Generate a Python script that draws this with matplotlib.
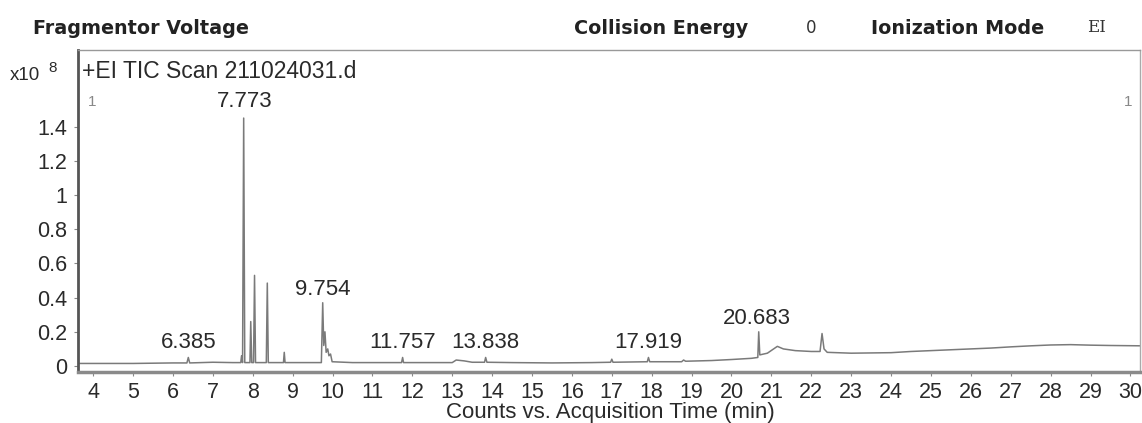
import matplotlib.pyplot as plt

# chromatogram trace (time in min, counts x1e8)
times = [3.62, 5.0, 6.0, 6.35, 6.385, 6.42, 7.0, 7.5, 7.70, 7.72, 7.745, 7.773, 7.80,
         7.93, 7.95, 7.975, 8.02, 8.045, 8.07, 8.34, 8.365, 8.39, 8.77, 8.79, 8.81,
         9.72, 9.754, 9.78, 9.81, 9.84, 9.88, 9.91, 9.95, 9.99, 10.5, 11.0, 11.73,
         11.757, 11.78, 12.5, 13.0, 13.1, 13.3, 13.5, 13.81, 13.838, 13.87, 14.5, 15.5,
         16.5, 16.97, 17.0, 17.03, 17.89, 17.919, 17.95, 18.75, 18.8, 18.85, 19.5, 20.0,
         20.5, 20.66, 20.683, 20.71, 20.9, 21.15, 21.3, 21.6, 22.0, 22.22, 22.27, 22.32,
         22.4, 23.0, 24.0, 24.5, 25.5, 26.5, 27.0, 27.5, 28.0, 28.5, 29.0, 29.5, 30.3]
counts = [0.015, 0.015, 0.018, 0.018, 0.05, 0.018, 0.022, 0.02, 0.02, 0.06, 0.02, 1.45, 0.02,
          0.02, 0.26, 0.02, 0.02, 0.53, 0.02, 0.02, 0.485, 0.02, 0.02, 0.08, 0.02,
          0.02, 0.37, 0.12, 0.2, 0.08, 0.1, 0.06, 0.07, 0.025, 0.02, 0.02, 0.02,
          0.05, 0.02, 0.02, 0.02, 0.035, 0.03, 0.022, 0.022, 0.05, 0.022, 0.02, 0.018,
          0.02, 0.022, 0.04, 0.022, 0.025, 0.05, 0.025, 0.025, 0.035, 0.028, 0.032, 0.038,
          0.045, 0.05, 0.2, 0.065, 0.075, 0.115, 0.1, 0.09, 0.085, 0.085, 0.19, 0.1,
          0.08, 0.075, 0.078, 0.085, 0.095, 0.105, 0.112, 0.118, 0.123, 0.125, 0.122, 0.12, 0.118]

# labelled peaks and where their labels sit
peak_names = ['6.385', '7.773', '9.754', '11.757', '13.838', '17.919', '20.683']
peak_x = [6.385, 7.81, 9.754, 11.757, 13.838, 17.919, 20.64]
label_y = [0.14, 1.545, 0.445, 0.14, 0.14, 0.14, 0.28]

x_ticks = list(range(4, 31))
y_ticks = [0, 0.2, 0.4, 0.6, 0.8, 1.0, 1.2, 1.4]
y_tick_labels = ['0', '0.2', '0.4', '0.6', '0.8', '1', '1.2', '1.4']

W, H = 1142, 423
fig = plt.figure(figsize=(W / 100, H / 100), dpi=100)
ax = fig.add_axes([78 / W, 1 - 372 / H, (1140 - 78) / W, (372 - 50) / H])

ax.plot(times, counts, color='#7a7a7a', linewidth=1.1)

ax.set_xlim(3.62, 30.24)
ax.set_ylim(-0.035, 1.848)
ax.set_xticks(x_ticks)
ax.set_yticks(y_ticks)
ax.set_yticklabels(y_tick_labels)
ax.tick_params(axis='both', direction='out', length=3, width=0.8, color='#888888',
               labelsize=15.5, labelcolor='#2a2a2a', pad=5)
ax.tick_params(axis='x', pad=4)
for lab in ax.get_xticklabels() + ax.get_yticklabels():
    lab.set_family('Liberation Sans')

ax.spines['left'].set_color('#555555')
ax.spines['left'].set_linewidth(2)
ax.spines['bottom'].set_color('#8a8a8a')
ax.spines['bottom'].set_linewidth(2.5)
ax.spines['top'].set_color('#999999')
ax.spines['right'].set_color('#aaaaaa')
ax.spines['top'].set_linewidth(1)
ax.spines['right'].set_linewidth(1)

for name, px, py in zip(peak_names, peak_x, label_y):
    ax.text(px, py, name, ha='center', va='center', fontsize=16,
            family='Liberation Sans', color='#2a2a2a')

ax.text(0.004, 0.932, '+EI TIC Scan 211024031.d', transform=ax.transAxes, ha='left', va='center',
        fontsize=16.5, family='Liberation Sans', color='#2a2a2a')
ax.text(0.009, 0.837, '1', transform=ax.transAxes, ha='left', va='center',
        fontsize=11, family='Liberation Sans', color='#888888')
ax.text(0.993, 0.837, '1', transform=ax.transAxes, ha='right', va='center',
        fontsize=11, family='Liberation Sans', color='#888888')


def fig_text(x, y, s, **kw):
    fig.text(x / W, 1 - y / H, s, **kw)


fig_text(33, 28, 'Fragmentor Voltage', ha='left', va='center', fontsize=13.8,
         fontweight='bold', family='DejaVu Sans', color='#222222')
fig_text(574, 28, 'Collision Energy', ha='left', va='center', fontsize=13.8,
         fontweight='bold', family='DejaVu Sans', color='#222222')
fig_text(811, 28, '0', ha='center', va='center', fontsize=12, family='DejaVu Sans', color='#333333')
fig_text(871, 28, 'Ionization Mode', ha='left', va='center', fontsize=13.8,
         fontweight='bold', family='DejaVu Sans', color='#222222')
fig_text(1096, 28, 'EI', ha='center', va='center', fontsize=12, family='DejaVu Serif', color='#333333')

fig_text(10, 76, 'x10', ha='left', va='center', fontsize=13.5, family='Liberation Sans', color='#2a2a2a')
fig_text(48, 68, '8', ha='left', va='center', fontsize=11, family='Liberation Sans', color='#2a2a2a')

fig_text(610, 412, 'Counts vs. Acquisition Time (min)', ha='center', va='center', fontsize=16,
         family='Liberation Sans', color='#2a2a2a')

fig.savefig('out.png', dpi=100)
